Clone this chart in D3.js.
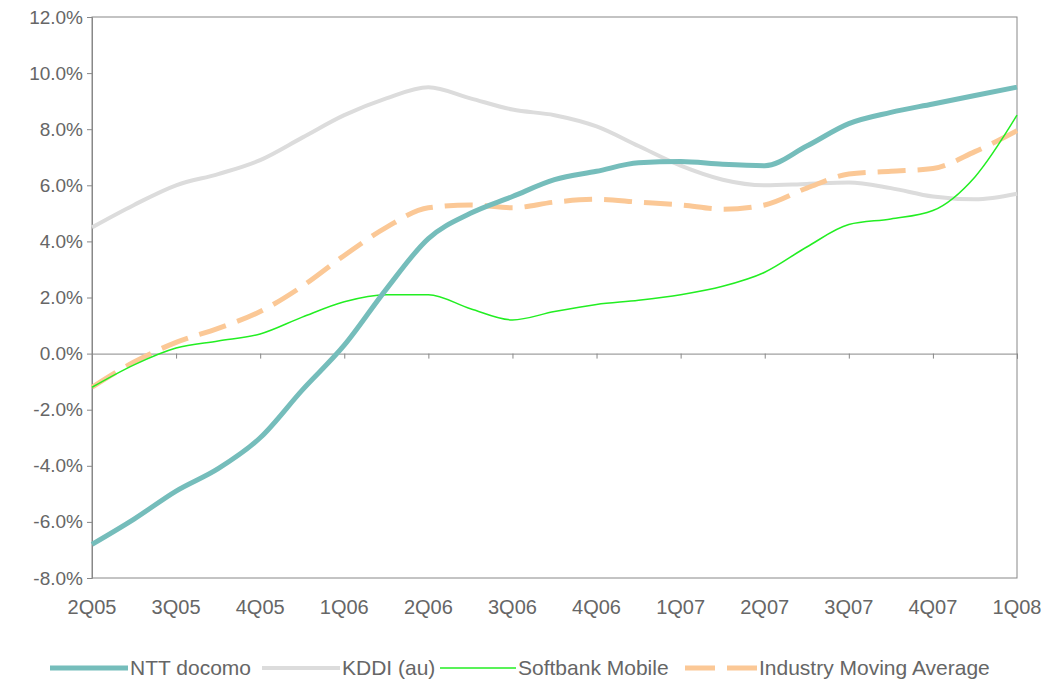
<!DOCTYPE html>
<html><head><meta charset="utf-8">
<script src="https://cdn.jsdelivr.net/npm/d3@7"></script>
<style>body{margin:0;background:#fff}text{font-family:"Liberation Sans",Arial,sans-serif;fill:#666}</style>
</head><body><svg id="c" width="1060" height="681"></svg>
<script>
var quarters = ["2Q05","3Q05","4Q05","1Q06","2Q06","3Q06","4Q06","1Q07","2Q07","3Q07","4Q07","1Q08"];
var yTicks = [-8,-6,-4,-2,0,2,4,6,8,10,12];
// values at each quarter and half-way points (23 points)
var ntt = [-6.8,-5.9,-4.9,-4.1,-3.0,-1.3,0.3,2.3,4.1,5.0,5.6,6.2,6.5,6.8,6.85,6.75,6.7,7.4,8.2,8.6,8.9,9.2,9.5];
var kddi = [4.5,5.3,6.0,6.4,6.9,7.7,8.5,9.1,9.5,9.1,8.7,8.5,8.1,7.4,6.7,6.2,6.0,6.05,6.1,5.9,5.6,5.5,5.7];
var softbank = [-1.2,-0.4,0.2,0.45,0.7,1.3,1.85,2.1,2.1,1.6,1.2,1.5,1.75,1.9,2.1,2.4,2.9,3.8,4.6,4.8,5.1,6.3,8.5];
var industry = [-1.2,-0.3,0.4,0.9,1.5,2.4,3.5,4.5,5.2,5.3,5.2,5.4,5.5,5.4,5.3,5.15,5.3,5.9,6.4,6.5,6.6,7.2,7.95];

var series = [
  {name:"NTT docomo", v:ntt, color:"#75bdbb", w:5, dash:null},
  {name:"KDDI (au)", v:kddi, color:"#dcdcdc", w:4, dash:null},
  {name:"Softbank Mobile", v:softbank, color:"#22ee22", w:1.5, dash:null},
  {name:"Industry Moving Average", v:industry, color:"#fbc896", w:5, dash:"28,12"}
];

var svg = d3.select("#c");
var L=92,R=1017,T=17,B=578;
var x = d3.scaleLinear().domain([0,11]).range([L,R]);
var y = d3.scaleLinear().domain([-8,12]).range([B,T]);

svg.append("rect").attr("x",L).attr("y",T).attr("width",R-L).attr("height",B-T)
  .attr("fill","none").attr("stroke","#888").attr("stroke-width",1);

var ya = svg.append("g").attr("transform","translate("+L+",0)")
  .call(d3.axisLeft(y).tickValues(yTicks).tickSize(5).tickFormat(d=>d.toFixed(1)+"%"));
ya.attr("font-size",null).attr("font-family",null);
ya.selectAll("text").style("font-size","19px").attr("dx","-1");
ya.selectAll("line,path").attr("stroke","#888");

var xa = svg.append("g").attr("transform","translate(0,"+y(0)+")")
  .call(d3.axisBottom(x).tickValues(d3.range(12)).tickSize(5).tickFormat(""));
xa.selectAll("line,path").attr("stroke","#888");
svg.selectAll(".ql").data(quarters).enter().append("text")
  .attr("x",(d,i)=>x(i)).attr("y",B+36).attr("text-anchor","middle")
  .style("font-size","20px").text(d=>d);

var line = d3.line().x((d,i)=>x(i/2)).y(d=>y(d)).curve(d3.curveMonotoneX);
[1,3,2,0].forEach(function(k){
  var s=series[k];
  svg.append("path").attr("d",line(s.v)).attr("fill","none")
    .attr("stroke",s.color).attr("stroke-width",s.w).attr("stroke-dasharray",s.dash);
});

var lx=[50,262,440,685];
var lw=[78,78,76,72];
var lg = svg.selectAll(".lg").data(series).enter().append("g")
  .attr("transform",(d,i)=>"translate("+lx[i]+",668)");
lg.append("line").attr("x1",0).attr("x2",(d,i)=>lw[i]).attr("y1",0).attr("y2",0)
  .attr("stroke",d=>d.color).attr("stroke-width",d=>d.w).attr("stroke-dasharray",d=>d.dash?"30,12":null);
lg.append("text").attr("x",(d,i)=>lw[i]+2).attr("y",7).style("font-size","21px").text(d=>d.name);
</script></body></html>
